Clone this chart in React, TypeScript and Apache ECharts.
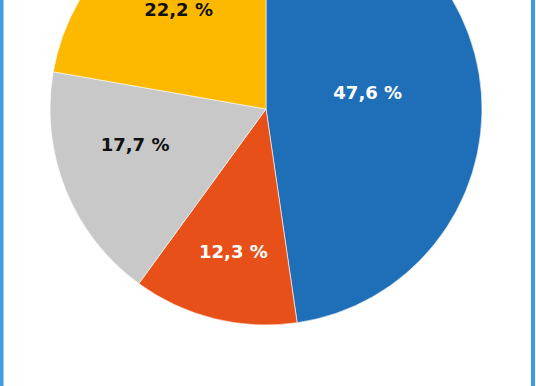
import React, { useEffect, useRef } from "react";
import * as echarts from "echarts";

const categories = ["Segment A", "Segment B", "Segment C", "Segment D"];
const values = [47.6, 12.3, 17.7, 22.2];
const colors = ["#1F6EB8", "#E8501A", "#C8C8C8", "#FDB900"];
const labelColors = ["#FFFFFF", "#FFFFFF", "#111111", "#111111"];
const labelShift = [
  [-9, -8],
  [-6, 35],
  [-28, -6],
  [-16, -15],
];

export default function App() {
  const ref = useRef<HTMLDivElement>(null);
  useEffect(() => {
    if (!ref.current) return;
    const chart = echarts.init(ref.current, undefined, { renderer: "svg" });
    chart.setOption({
      animation: false,
      backgroundColor: "#FFFFFF",
      graphic: [
        { type: "rect", left: 0, top: 0, shape: { width: 3.5, height: 386 }, style: { fill: "#3E9CDF", stroke: null } },
        { type: "rect", left: 531, top: 0, shape: { width: 4, height: 386 }, style: { fill: "#3E9CDF", stroke: null } },
      ],
      series: [
        {
          type: "pie",
          center: [266, 109],
          radius: [0, 216],
          startAngle: 90,
          clockwise: true,
          avoidLabelOverlap: false,
          itemStyle: { borderColor: "#FFFFFF", borderWidth: 0.6 },
          label: {
            show: true,
            position: "inside",
            fontFamily: "DejaVu Sans",
            fontWeight: "bold",
            fontSize: 18,
            lineHeight: 16,
            formatter: (p: any) => p.value.toFixed(1).replace(".", ",") + " %",
          },
          labelLine: { show: false },
          labelLayout: (p: any) => ({ dx: labelShift[p.dataIndex][0], dy: labelShift[p.dataIndex][1] }),
          data: categories.map((name, i) => ({
            name,
            value: values[i],
            itemStyle: { color: colors[i] },
            label: { color: labelColors[i] },
          })),
        },
      ],
    });
    return () => chart.dispose();
  }, []);
  return (
    <div
      ref={ref}
      style={{ position: "fixed", left: 0, top: 0, width: 536, height: 386 }}
    />
  );
}
